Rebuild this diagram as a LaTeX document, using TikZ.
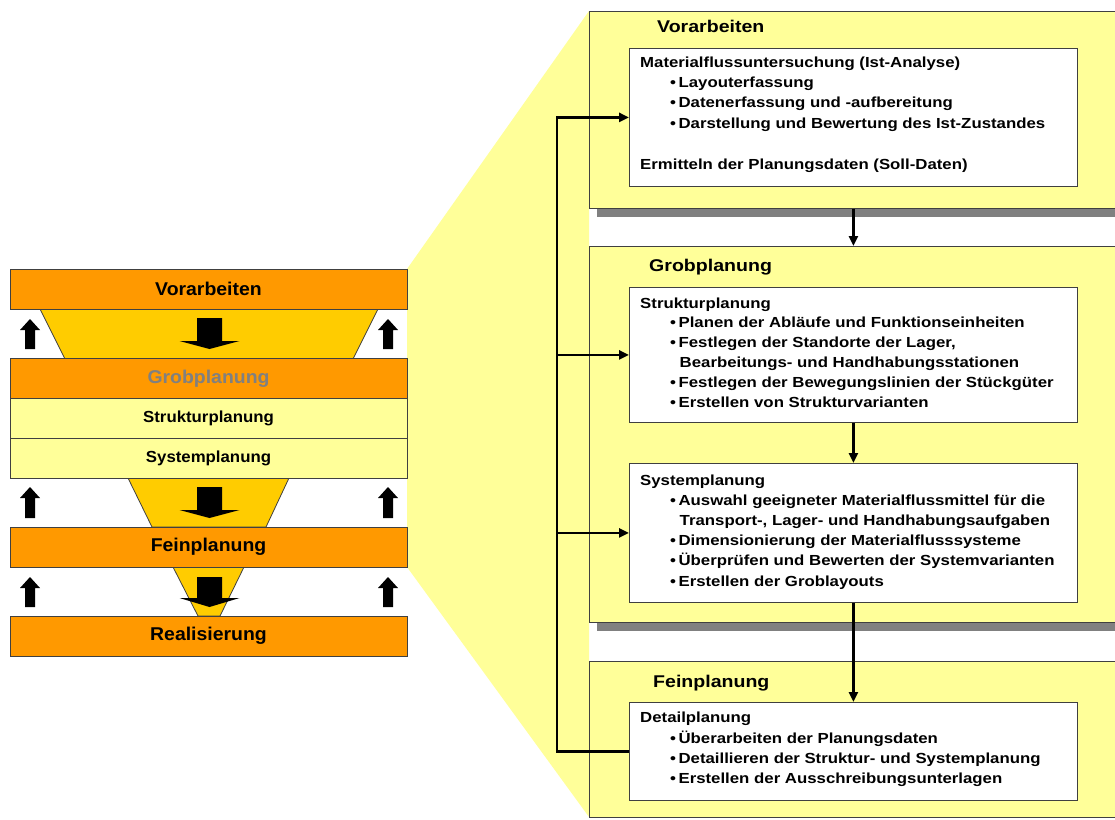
\documentclass[tikz,border=0pt]{standalone}
\usepackage{fontspec}
\setmainfont{Liberation Sans}
\newfontfamily\stackfont[FakeStretch=1.05]{Liberation Sans}
\newfontfamily\panelfont[FakeStretch=1.15]{Liberation Sans}
\usetikzlibrary{arrows.meta}

\definecolor{barorange}{HTML}{FF9900}
\definecolor{funnelyel}{HTML}{FFCC00}
\definecolor{paleyel}{HTML}{FFFF99}
\definecolor{edgegray}{HTML}{404040}
\definecolor{shadegray}{HTML}{808080}

\newcommand\bul{\hspace*{30pt}\textbullet\hspace{2.5pt}}
\newcommand\cont{\hspace*{39.5pt}}

% upward block arrow: x centre, tip y, bottom y
\newcommand\upblock[3]{%
  \fill (#1-5,#3) -- (#1-5,#2+11) -- (#1-10,#2+11) -- (#1,#2)
        -- (#1+10,#2+11) -- (#1+5,#2+11) -- (#1+5,#3) -- cycle;}
% downward block arrow: shaft top y, head base y, tip y
\newcommand\downblock[3]{%
  \fill (197,#1) -- (222,#1) -- (222,#2) -- (239.5,#2) -- (209.5,#3)
        -- (179.5,#2) -- (197,#2) -- cycle;}

\begin{document}
\begin{tikzpicture}[x=1pt,y=-1pt,
  stackbar/.style={draw=edgegray, line width=0.8pt, minimum width=397pt,
    minimum height=40pt, inner sep=0pt, font=\stackfont\bfseries\fontsize{16}{18}\selectfont},
  mainbar/.style={stackbar, fill=barorange, font=\stackfont\bfseries\fontsize{18.5}{20}\selectfont},
  subbar/.style={stackbar, fill=paleyel},
  funnel/.style={fill=funnelyel, draw=edgegray, line width=0.8pt},
  panel/.style={draw=edgegray, fill=paleyel, line width=0.8pt, anchor=north west,
    minimum width=527pt, inner sep=0pt},
  shade/.style={fill=shadegray},
  ptitle/.style={anchor=base west, inner sep=0pt, font=\panelfont\bfseries\fontsize{17}{20}\selectfont},
  wbox/.style={draw=edgegray, fill=white, line width=0.8pt, anchor=north west,
    minimum width=448pt, inner sep=0pt},
  % anchored at the baseline of the last line
  btext/.style={anchor=base west, inner sep=0pt, align=left},
  flow/.style={line width=2.6pt, -{Triangle[length=10pt,width=9pt]}},
  bus/.style={line width=2.6pt}
]
\useasboundingbox (0,0) rectangle (1115,819);
\fill[white] (0,0) rectangle (1115,819);

% magnifying wedge from the stack to the detail panels
\fill[paleyel] (407,269) -- (589,11) -- (589,817) -- (407,567) -- cycle;

% ---------- phase stack ----------
\draw[funnel] (40,309) -- (65,359) -- (353,359) -- (378,309) -- cycle;
\draw[funnel] (128,478) -- (152,527) -- (266,527) -- (289,478) -- cycle;
\draw[funnel] (173,567) -- (198,616) -- (220,616) -- (244,567) -- cycle;

\node[mainbar] (sVor)  at (208.5,289) {Vorarbeiten};
\node[mainbar, text=shadegray] (sGrob) at (208.5,378.5) {Grobplanung};
\node[subbar]  (sStr)  at (208.5,418) {Strukturplanung};
\node[subbar]  (sSys)  at (208.5,458) {Systemplanung};
\node[mainbar] (sFein) at (208.5,547) {Feinplanung};
\node[mainbar] (sReal) at (208.5,636) {Realisierung};

\downblock{318}{341}{349}
\downblock{487}{510}{518}
\downblock{577}{598}{607}

\upblock{30}{319}{349}  \upblock{388}{319}{349}
\upblock{30}{487}{518}  \upblock{388}{487}{518}
\upblock{30}{577}{607}  \upblock{388}{577}{607}

% ---------- detail panels ----------
\fill[shade] (597,208) rectangle (1116,217);
\fill[shade] (597,622) rectangle (1116,631);

\node[panel, minimum height=197pt] (P1) at (589,11) {};
\node[panel, minimum height=376pt] (P2) at (589,246) {};
\node[panel, minimum height=156pt] (P3) at (589,661) {};

\node[ptitle] (T1) at (657,32)  {Vorarbeiten};
\node[ptitle] (T2) at (649,271) {Grobplanung};
\node[ptitle] (T3) at (653,687) {Feinplanung};

\node[wbox, minimum height=138pt] (B1) at (629,48)  {};
\node[wbox, minimum height=135pt] (B2) at (629,287) {};
\node[wbox, minimum height=139pt] (B3) at (629,463) {};
\node[wbox, minimum height=98pt]  (B4) at (629,702) {};

\begin{scope}[every node/.append style={font=\panelfont\bfseries\fontsize{14.6}{20.4}\selectfont}]
\node[btext] (X1) at (640,169) {Materialflussuntersuchung (Ist-Analyse)\\
  \bul Layouterfassung\\
  \bul Datenerfassung und -aufbereitung\\
  \bul Darstellung und Bewertung des Ist-Zustandes\\[20.4pt]
  Ermitteln der Planungsdaten (Soll-Daten)};
\end{scope}
\begin{scope}[every node/.append style={font=\panelfont\bfseries\fontsize{14.6}{19.8}\selectfont}]
\node[btext] (X2) at (640,407) {Strukturplanung\\
  \bul Planen der Abläufe und Funktionseinheiten\\
  \bul Festlegen der Standorte der Lager,\\
  \cont Bearbeitungs- und Handhabungsstationen\\
  \bul Festlegen der Bewegungslinien der Stückgüter\\
  \bul Erstellen von Strukturvarianten};
\end{scope}
\begin{scope}[every node/.append style={font=\panelfont\bfseries\fontsize{14.6}{20.2}\selectfont}]
\node[btext] (X3) at (640,586) {Systemplanung\\
  \bul Auswahl geeigneter Materialflussmittel für die\\
  \cont Transport-, Lager- und Handhabungsaufgaben\\
  \bul Dimensionierung der Materialflusssysteme\\
  \bul Überprüfen und Bewerten der Systemvarianten\\
  \bul Erstellen der Groblayouts};
\node[btext] (X4) at (640,783.5) {Detailplanung\\
  \bul Überarbeiten der Planungsdaten\\
  \bul Detaillieren der Struktur- und Systemplanung\\
  \bul Erstellen der Ausschreibungsunterlagen};
\end{scope}

% ---------- connectors ----------
\coordinate (busx) at (557,0);
\draw[flow] (B1.south |- P1.south) -- (B2.north |- P2.north);
\draw[flow] (B2.south) -- (B3.north);
\draw[flow] (B3.south) -- (B4.north);
\draw[bus, line join=miter] (B4.west) -- (B4.west -| busx) -- (B1.west -| busx) -- ++(5,0);
\draw[flow] (B1.west -| busx) -- (B1.west);
\draw[flow] (B2.west -| busx) -- (B2.west);
\draw[flow] (B3.west -| busx) -- (B3.west);
\end{tikzpicture}
\end{document}
